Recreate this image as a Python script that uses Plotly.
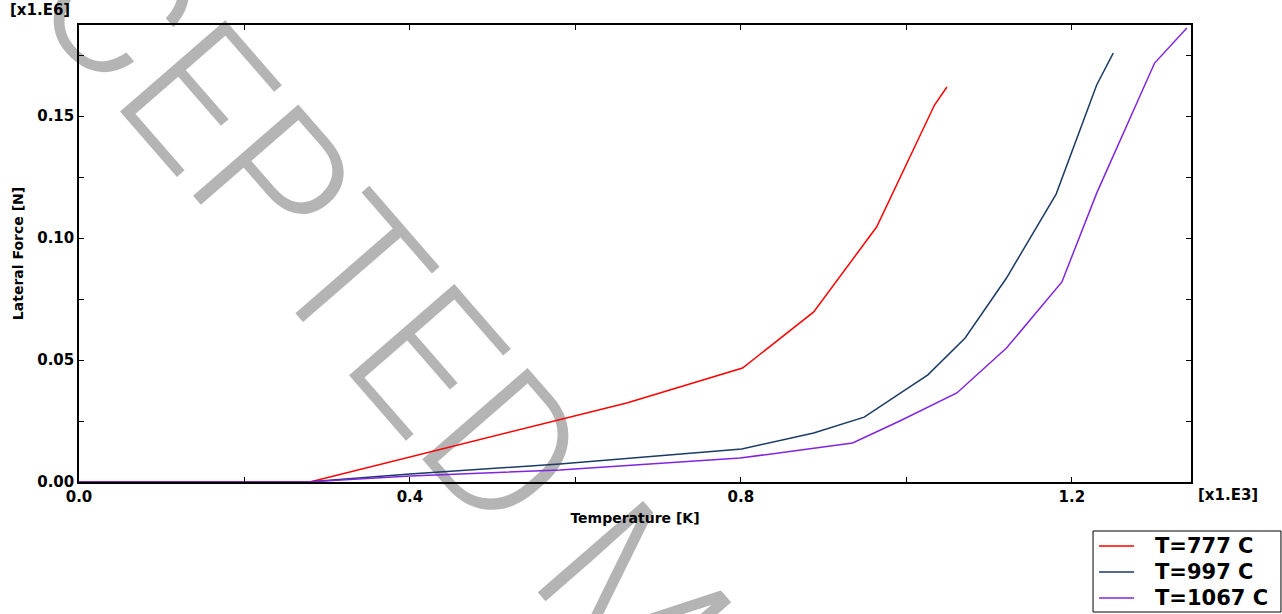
import plotly.graph_objects as go

# ---- data (x in 1e3 K, y in 1e6 N) ----
red_x = [0, 0.279, 0.662, 0.802, 0.888, 0.964, 1.034, 1.049]
red_y = [0, 0, 0.0324, 0.0467, 0.0697, 0.1045, 0.1545, 0.1619]

blue_x = [0, 0.2755, 0.400, 0.581, 0.801, 0.888, 0.949, 1.026, 1.071, 1.121, 1.181, 1.230, 1.250]
blue_y = [0, 0, 0.0033, 0.0074, 0.0135, 0.0201, 0.0266, 0.0439, 0.0590, 0.0836, 0.1180, 0.1627, 0.1758]

purple_x = [0, 0.2755, 0.400, 0.581, 0.799, 0.935, 0.992, 1.061, 1.121, 1.188, 1.230, 1.300, 1.339]
purple_y = [0, 0, 0.0025, 0.0049, 0.0098, 0.0160, 0.0250, 0.0365, 0.0549, 0.0820, 0.1184, 0.1717, 0.1861]

series_names = ["T=777 C", "T=997 C", "T=1067 C"]
series_colors = ["#ff0000", "#1b3a66", "#8024e0"]

x_tickvals = [0, 0.2, 0.4, 0.6, 0.8, 1.0, 1.2]
x_ticktext = ["0.0", "", "0.4", "", "0.8", "", "1.2"]
y_tickvals = [0, 0.025, 0.05, 0.075, 0.10, 0.125, 0.15, 0.175]
y_ticktext = ["0.00", "", "0.05", "", "0.10", "", "0.15", ""]

FONT = "DejaVu Sans, Verdana, sans-serif"

fig = go.Figure()
for xs, ys, name, col in zip([red_x, blue_x, purple_x], [red_y, blue_y, purple_y],
                             series_names, series_colors):
    fig.add_trace(go.Scatter(x=xs, y=ys, mode="lines", name=name, showlegend=False,
                             line=dict(color=col, width=1.5)))

axis_common = dict(showline=True, linecolor="black", linewidth=1.5, mirror="ticks",
                   ticks="inside", ticklen=5, tickwidth=1, tickcolor="black",
                   showgrid=False, zeroline=False,
                   tickfont=dict(family=FONT, size=15, color="black", weight="bold"))

fig.update_xaxes(range=[0, 1.344], tickmode="array", tickvals=x_tickvals, ticktext=x_ticktext,
                 title=dict(text="Temperature [K]", standoff=8,
                            font=dict(family=FONT, size=14, color="black", weight="bold")),
                 **axis_common)
fig.update_yaxes(range=[0, 0.1873], tickmode="array", tickvals=y_tickvals, ticktext=y_ticktext,
                 title=dict(text="Lateral Force [N]", standoff=10,
                            font=dict(family=FONT, size=14, color="black", weight="bold")),
                 **axis_common)

annotations = [
    dict(text="[x1.E6]", xref="paper", yref="paper", x=-0.064, y=1.0, xanchor="left",
         yanchor="bottom", yshift=4, showarrow=False,
         font=dict(family=FONT, size=15, color="black", weight="bold")),
    dict(text="[x1.E3]", xref="paper", yref="paper", x=1.0, y=0.0, xanchor="left",
         yanchor="top", xshift=5, yshift=-2, showarrow=False,
         font=dict(family=FONT, size=15, color="black", weight="bold")),
]

# watermark: a label on an invisible shape, drawn below traces and axes
wm_cx, wm_cy = 0.5183, -0.267
shapes = [dict(type="rect", xref="paper", yref="paper",
               x0=wm_cx - 0.005, x1=wm_cx + 0.005, y0=wm_cy - 0.005, y1=wm_cy + 0.005,
               line=dict(width=0), fillcolor="rgba(0,0,0,0)", layer="below",
               label=dict(text="ACCEPTED MANUSCRIPT", textposition="middle center", textangle=49,
                          font=dict(family="Roboto, Liberation Sans, sans-serif", weight=300,
                                    size=196, color="#b4b4b4")))]

# legend box (bottom-right, outside the plot area), in paper coordinates
leg_x0, leg_x1, leg_y0, leg_y1 = 0.9119, 1.0809, -0.2845, -0.1072
row_y = [-0.1400, -0.1969, -0.2538]
shapes.append(dict(type="rect", xref="paper", yref="paper", x0=leg_x0, x1=leg_x1, y0=leg_y0, y1=leg_y1,
                   line=dict(color="black", width=1), fillcolor="white", layer="above"))
for name, col, ry in zip(series_names, series_colors, row_y):
    shapes.append(dict(type="line", xref="paper", yref="paper", x0=0.9173, x1=0.9488, y0=ry, y1=ry,
                       line=dict(color=col, width=1.5)))
    annotations.append(dict(text=name, xref="paper", yref="paper", x=0.9658, y=ry,
                            xanchor="left", yanchor="middle", showarrow=False,
                            font=dict(family=FONT, size=21, color="black", weight="bold")))

fig.update_layout(
    width=1282, height=614,
    margin=dict(l=79, r=91, t=25, b=132, autoexpand=False),
    plot_bgcolor="rgba(0,0,0,0)", paper_bgcolor="white",
    showlegend=False,
    annotations=annotations,
    shapes=shapes,
)

fig.write_html("out.html", config={"responsive": False, "displayModeBar": False})
